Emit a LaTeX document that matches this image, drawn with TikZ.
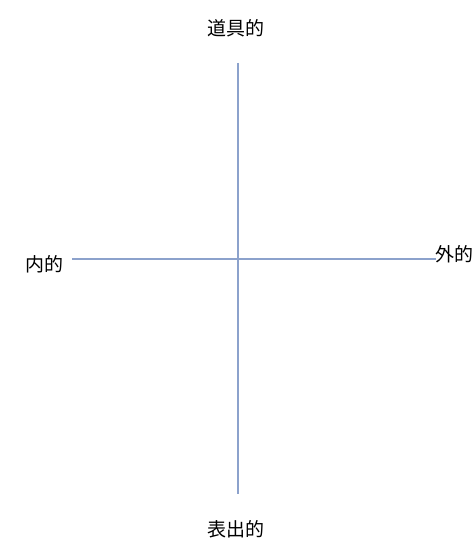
\documentclass[tikz,border=0pt]{standalone}
\usepackage{fontspec}
\newfontfamily\jpfont{Noto Sans CJK JP}
\usepackage{tikz}

\definecolor{axisblue}{RGB}{140,162,204}

\tikzset{
  axis line/.style={axisblue, line width=2pt},
  pole/.style={font=\jpfont\fontsize{19}{22}\selectfont, inner sep=0pt}
}

\begin{document}
\begin{tikzpicture}[x=1pt,y=-1pt]
\useasboundingbox (0,0) rectangle (475,545);

% end points of the two axes
\coordinate (upper) at (238,63);
\coordinate (lower) at (238,494);
\coordinate (left) at (72,259);
\coordinate (right) at (436,259);

\draw[axis line] (upper) -- (lower);
\draw[axis line] (left) -- (right);

% labels of the four poles
\node[pole] (tool) at (236,28) {道具的};
\node[pole] (expr) at (236,529) {表出的};
\node[pole, anchor=east] (inner) at (64,264) {内的};
\node[pole, anchor=east] (outer) at (474,254) {外的};

\end{tikzpicture}
\end{document}
